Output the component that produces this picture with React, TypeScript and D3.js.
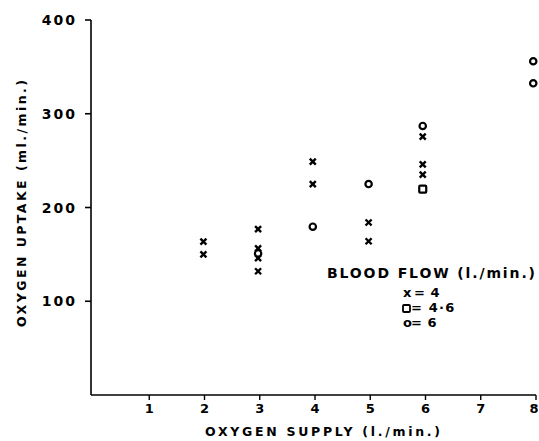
import React from "react";
import * as d3 from "d3";

const crossX = [1.98, 1.98, 2.97, 2.97, 2.97, 2.97, 3.96, 3.96, 4.97, 4.97, 5.95, 5.95, 5.95];
const crossY = [163.5, 150, 177, 156.5, 146, 132, 249, 225, 184, 164, 275.5, 246, 235];
const circleX = [2.97, 3.96, 4.97, 5.95, 7.95, 7.95];
const circleY = [151, 179.5, 225, 287, 356, 332.5];
const squareX = [5.95];
const squareY = [219.5];
const xTicks = [1, 2, 3, 4, 5, 6, 7, 8];
const yTicks = [100, 200, 300, 400];
const xTitle = "OXYGEN SUPPLY (l./min.)";
const yTitle = "OXYGEN UPTAKE (ml./min.)";
const legendTitle = "BLOOD FLOW (l./min.)";
const legendItems = ["= 4", "= 4·6", "= 6"];

const W = 539;
const H = 441;
const FONT = "'DejaVu Sans', sans-serif";

export default function App() {
  const x = d3.scaleLinear().domain([0, 8]).range([94, 536]);
  const y = d3.scaleLinear().domain([0, 400]).range([395, 20]);
  const axisX = x(0) - 3;
  const axisY = y(0);

  return (
    <svg width={W} height={H} style={{ position: "absolute", left: 0, top: 0, background: "#fff" }}
      fontFamily={FONT} fontWeight="bold">
      <rect width={W} height={H} fill="#fff" />
      {/* axes */}
      <line x1={axisX} y1={y(400)} x2={axisX} y2={axisY} stroke="#000" strokeWidth={1.6} />
      <line x1={axisX} y1={axisY} x2={x(8)} y2={axisY} stroke="#000" strokeWidth={1.6} />
      {yTicks.map((t) => (
        <g key={"y" + t}>
          <line x1={axisX - 6} x2={axisX} y1={y(t)} y2={y(t)} stroke="#000" strokeWidth={1.6} />
          <text x={axisX - 14} y={y(t)} dy="0.36em" textAnchor="end" fontSize={14} letterSpacing={2}>
            {t}
          </text>
        </g>
      ))}
      {xTicks.map((t) => (
        <g key={"x" + t}>
          <line x1={x(t)} x2={x(t)} y1={axisY} y2={axisY + 5} stroke="#000" strokeWidth={1.4} />
          <text x={Math.min(x(t), W - 5)} y={axisY + 18} textAnchor="middle" fontSize={13}>
            {t}
          </text>
        </g>
      ))}
      <text x={205} y={436} fontSize={12.5} textLength={235} lengthAdjust="spacing">
        {xTitle}
      </text>
      <text transform={`translate(26,327) rotate(-90)`} fontSize={12.5} textLength={247} lengthAdjust="spacing">
        {yTitle}
      </text>
      {/* data */}
      {crossX.map((v, i) => (
        <g key={"c" + i} transform={`translate(${x(v)},${y(crossY[i])})`} stroke="#000" strokeWidth={2.4}>
          <line x1={-3} y1={-3} x2={3} y2={3} />
          <line x1={-3} y1={3} x2={3} y2={-3} />
        </g>
      ))}
      {circleX.map((v, i) => (
        <circle key={"o" + i} cx={x(v)} cy={y(circleY[i])} r={3.2} fill="#fff" stroke="#000" strokeWidth={2.2} />
      ))}
      {squareX.map((v, i) => (
        <rect key={"s" + i} x={x(v) - 3.5} y={y(squareY[i]) - 3.5} width={7} height={7} rx={1}
          fill="#fff" stroke="#000" strokeWidth={2.2} />
      ))}
      {/* legend */}
      <text x={327} y={278} fontSize={14} textLength={208} lengthAdjust="spacing">
        {legendTitle}
      </text>
      <text x={403} y={297} fontSize={13}>x</text>
      <rect x={403} y={305} width={7} height={7} rx={1} fill="#fff" stroke="#000" strokeWidth={1.8} />
      <text x={403} y={327} fontSize={13}>o</text>
      {legendItems.map((s, i) => (
        <text key={"l" + i} x={i === 0 ? 414 : 411} y={297 + i * 15} fontSize={13} letterSpacing={i === 1 ? 1.2 : 0.5}>
          {s}
        </text>
      ))}
    </svg>
  );
}
